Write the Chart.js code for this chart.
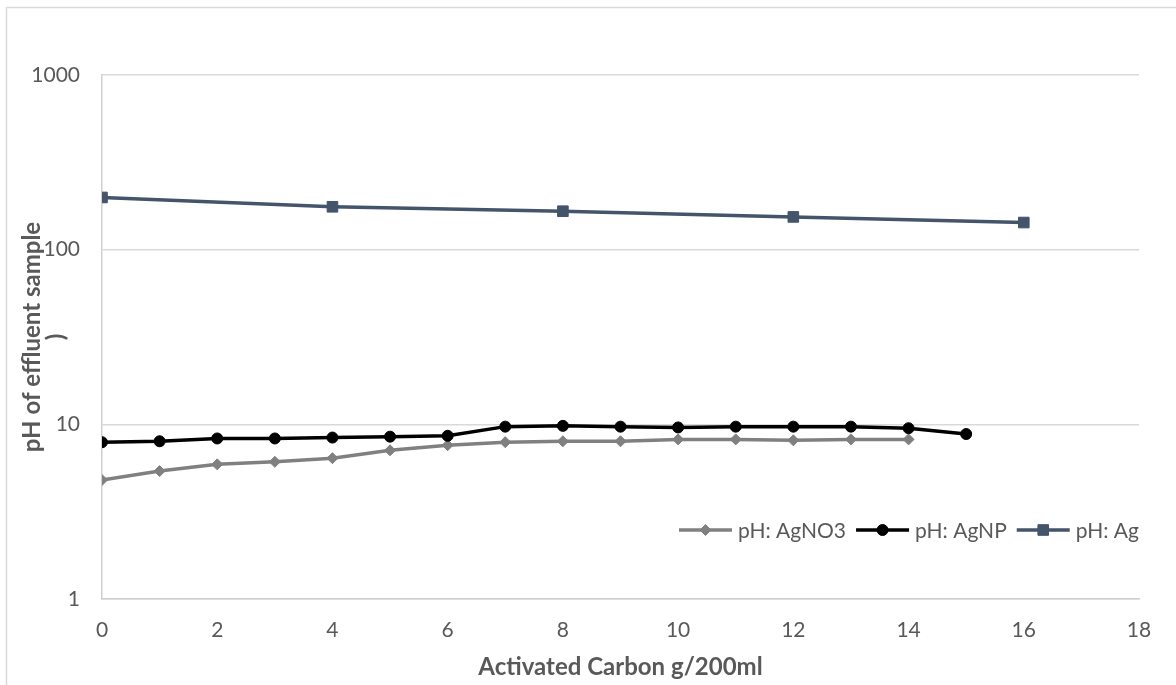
<!DOCTYPE html>
<html><head><meta charset="utf-8">
<script src="https://cdn.jsdelivr.net/npm/chart.js@4.4.1/dist/chart.umd.min.js"></script>
<style>html,body{margin:0;padding:0;background:#fff}#wrap{width:1176px;height:685px;position:relative}</style>
</head><body><div id="wrap"><canvas id="c" width="1176" height="685"></canvas></div>
<script>
// ---- data ----
const xAgNO3 = [0,1,2,3,4,5,6,7,8,9,10,11,12,13,14];
const yAgNO3 = [4.8,5.4,5.9,6.1,6.4,7.1,7.6,7.9,8.0,8.0,8.2,8.2,8.1,8.2,8.2];
const xAgNP = [0,1,2,3,4,5,6,7,8,9,10,11,12,13,14,15];
const yAgNP = [7.9,8.0,8.3,8.3,8.4,8.5,8.6,9.7,9.8,9.7,9.6,9.7,9.7,9.7,9.5,8.8];
const xAg = [0,4,8,12,16];
const yAg = [199,176,166,154,143];
const seriesNames = ['pH: AgNO3','pH: AgNP','pH: Ag'];
const xTicks = [0,2,4,6,8,10,12,14,16,18];
const yTicks = [1,10,100,1000];
const xTitle = 'Activated Carbon g/200ml';
const yTitle = ['pH of effluent sample', ')'];

const FONT = 'Lato';
const TXT = '#595959';
const GRID = '#d9d9d9';

const toPts = (xs, ys) => xs.map((x, i) => ({x: x, y: ys[i]}));

const framePlugin = {
  id: 'frame',
  beforeDraw(chart) {
    const ctx = chart.ctx;
    ctx.save();
    ctx.fillStyle = '#fff';
    ctx.fillRect(0, 0, chart.width, chart.height);
    ctx.strokeStyle = '#d9d9d9';
    ctx.lineWidth = 1.5;
    ctx.beginPath();
    ctx.moveTo(6.5, chart.height);
    ctx.lineTo(6.5, 7.5);
    ctx.lineTo(chart.width, 7.5);
    ctx.stroke();
    ctx.restore();
  }
};

function drawMarker(ctx, ds, x, y) {
  ctx.save();
  ctx.fillStyle = ds.pointBackgroundColor;
  ctx.strokeStyle = ds.pointBorderColor;
  ctx.lineWidth = ds.pointBorderWidth;
  Chart.helpers.drawPoint(ctx, {pointStyle: ds.pointStyle, radius: ds.pointRadius, rotation: 0, borderWidth: ds.pointBorderWidth}, x, y);
  ctx.restore();
}

const legendPlugin = {
  id: 'insideLegend',
  afterDraw(chart) {
    const ctx = chart.ctx;
    const area = chart.chartArea;
    ctx.save();
    ctx.font = '21px ' + FONT;
    const lineLen = 53, gapText = 6, gapItem = 10;
    const items = chart.data.datasets.map(ds => ({ds: ds, w: ctx.measureText(ds.label).width}));
    let total = 0;
    items.forEach((it, i) => { total += lineLen + gapText + it.w + (i ? gapItem : 0); });
    let x = area.right - total;
    const y = area.bottom - 69;
    items.forEach(it => {
      const ds = it.ds;
      ctx.strokeStyle = ds.borderColor;
      ctx.lineWidth = ds.borderWidth;
      ctx.beginPath();
      ctx.moveTo(x, y);
      ctx.lineTo(x + lineLen, y);
      ctx.stroke();
      drawMarker(ctx, ds, x + lineLen / 2, y);
      ctx.fillStyle = TXT;
      ctx.textBaseline = 'middle';
      ctx.textAlign = 'left';
      ctx.fillText(ds.label, x + lineLen + gapText, y + 1);
      x += lineLen + gapText + it.w + gapItem;
    });
    ctx.restore();
  }
};

const mk = (label, pts, color, style, r, order) => ({
  label: label, data: pts, borderColor: color, backgroundColor: color,
  borderWidth: 3.5, pointStyle: style, pointRadius: r, pointHoverRadius: r,
  pointBackgroundColor: color, pointBorderColor: color, pointBorderWidth: 1,
  tension: 0, fill: false, order: order
});

new Chart(document.getElementById('c'), {
  type: 'line',
  data: {
    datasets: [
      mk(seriesNames[0], toPts(xAgNO3, yAgNO3), '#808080', 'rectRot', 5.5, 3),
      mk(seriesNames[1], toPts(xAgNP, yAgNP), '#000000', 'circle', 5.5, 2),
      mk(seriesNames[2], toPts(xAg, yAg), '#44546a', 'rect', 7.5, 1)
    ]
  },
  options: {
    responsive: false,
    animation: false,
    devicePixelRatio: 1,
    layout: {padding: {left: 0, top: 75, right: 37, bottom: 0}},
    plugins: {legend: {display: false}, tooltip: {enabled: false}},
    scales: {
      x: {
        type: 'linear', min: xTicks[0], max: xTicks[xTicks.length - 1],
        afterBuildTicks: s => { s.ticks = xTicks.map(v => ({value: v})); },
        afterFit: s => { s.height = 86; },
        grid: {display: false, drawTicks: false},
        border: {display: true, color: '#d0d0d0', width: 1.5},
        ticks: {padding: 19, color: TXT, font: {family: FONT, size: 21}, maxRotation: 0, autoSkip: false},
        title: {display: true, text: xTitle, color: TXT, font: {family: FONT, size: 24, weight: 'bold', lineHeight: 1.2}, padding: {top: 0, bottom: 3}}
      },
      y: {
        type: 'logarithmic', min: yTicks[0], max: yTicks[yTicks.length - 1],
        afterBuildTicks: s => { s.ticks = yTicks.map(v => ({value: v})); },
        afterFit: s => { s.width = 102; },
        grid: {display: true, color: GRID, lineWidth: 1.5, drawTicks: false},
        border: {display: true, color: '#d0d0d0', width: 1.5},
        ticks: {padding: 22, color: TXT, font: {family: FONT, size: 21}, callback: v => String(v), autoSkip: false},
        title: {display: true, text: yTitle, color: TXT, font: {family: FONT, size: 24, weight: 'bold', lineHeight: 1.0}, padding: {top: 20, bottom: 0}}
      }
    }
  },
  plugins: [framePlugin, legendPlugin]
});
</script>
</body></html>
